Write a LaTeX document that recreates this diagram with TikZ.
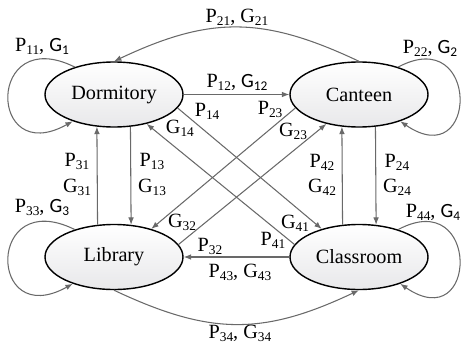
\documentclass[tikz,border=0pt]{standalone}
\usepackage{fontspec}
\setmainfont{Liberation Serif}
\newfontfamily\sansG{Carlito}
\usetikzlibrary{arrows.meta,shapes.geometric}
\definecolor{edgegray}{RGB}{105,105,105}
\definecolor{shadegray}{RGB}{232,232,234}
\newcommand{\subnum}[1]{\raisebox{-1.7pt}{\fontsize{7.6}{8}\selectfont #1}}
\newcommand{\Pv}[1]{P\subnum{#1}}
\newcommand{\Gv}[1]{G\subnum{#1}}
\newcommand{\Gs}[1]{{\sansG G\subnum{#1}}}
\tikzset{
  statenode/.style={ellipse,draw=black,line width=0.8pt,minimum width=2.76cm,minimum height=1.30cm,
    inner sep=0pt,top color=white,bottom color=shadegray,font=\fontsize{11.5}{13}\selectfont},
  transedge/.style={-{Latex[length=4.2pt,width=3.2pt]},line width=0.6pt,draw=edgegray},
  translabel/.style={font=\fontsize{11.5}{13}\selectfont,inner sep=1pt}
}

\begin{document}
\begin{tikzpicture}[x=4.9cm,y=3.25cm]
  \useasboundingbox (-0.4653,-0.5969) rectangle (1.4163,1.5815);
  \node[statenode] (dorm) at (0,1) {Dormitory};
  \node[statenode] (cant) at (1,1) {Canteen};
  \node[statenode] (lib) at (0,0) {Library};
  \node[statenode] (class) at (1,0) {Classroom};
  \draw[transedge] (dorm.145) .. controls +(-0.361,0.27) and +(-0.349,-0.292) .. (dorm.213);
  \draw[transedge] (lib.145) .. controls +(-0.361,0.27) and +(-0.349,-0.292) .. (lib.213);
  \draw[transedge] (cant.35) .. controls +(0.335,0.27) and +(0.32,-0.33) .. (cant.-33);
  \draw[transedge] (class.35) .. controls +(0.335,0.27) and +(0.32,-0.33) .. (class.-33);
  \draw[transedge] (cant.north) .. controls +(-0.392,0.279) and +(0.392,0.279) .. (dorm.north);
  \draw[transedge] (lib.south) .. controls +(0.392,-0.279) and +(-0.392,-0.279) .. (class.south);
  \draw[transedge] (dorm.east) -- (cant.west);
  \draw[transedge] (class.west) -- (lib.east);
  \draw[transedge] (lib.117.6) -- (dorm.242.4);
  \draw[transedge] (dorm.297.6) -- (lib.62.4);
  \draw[transedge] (class.117.6) -- (cant.242.4);
  \draw[transedge] (cant.297.6) -- (class.62.4);
  \draw[transedge] (dorm.-12) -- (class.143);
  \draw[transedge] (class.169) -- (dorm.-42);
  \draw[transedge] (cant.192) -- (lib.37);
  \draw[transedge] (lib.11) -- (cant.222);
  \node[translabel] (l11) at (-0.294,1.298) {\Pv{11}, \Gs{1}};
  \node[translabel] (l21) at (0.502,1.477) {\Pv{21}, \Gv{21}};
  \node[translabel] (l12) at (0.502,1.077) {\Pv{12}, \Gs{12}};
  \node[translabel] (l22) at (1.290,1.286) {\Pv{22}, \Gs{2}};
  \node[translabel] (p14) at (0.380,0.898) {\Pv{14}};
  \node[translabel] (g14) at (0.269,0.794) {\Gv{14}};
  \node[translabel] (p23) at (0.637,0.905) {\Pv{23}};
  \node[translabel] (g23) at (0.731,0.775) {\Gv{23}};
  \node[translabel] (p31) at (-0.151,0.585) {\Pv{31}};
  \node[translabel] (g31) at (-0.151,0.431) {\Gv{31}};
  \node[translabel] (p13) at (0.155,0.585) {\Pv{13}};
  \node[translabel] (g13) at (0.155,0.431) {\Gv{13}};
  \node[translabel] (p42) at (0.849,0.585) {\Pv{42}};
  \node[translabel] (g42) at (0.849,0.431) {\Gv{42}};
  \node[translabel] (p24) at (1.155,0.585) {\Pv{24}};
  \node[translabel] (g24) at (1.155,0.431) {\Gv{24}};
  \node[translabel] (l33) at (-0.294,0.302) {\Pv{33}, \Gs{3}};
  \node[translabel] (g32) at (0.278,0.215) {\Gv{32}};
  \node[translabel] (p32) at (0.392,0.068) {\Pv{32}};
  \node[translabel] (p41) at (0.649,0.105) {\Pv{41}};
  \node[translabel] (g41) at (0.739,0.209) {\Gv{41}};
  \node[translabel] (l43) at (0.514,-0.092) {\Pv{43}, \Gv{43}};
  \node[translabel] (l44) at (1.302,0.277) {\Pv{44}, \Gs{4}};
  \node[translabel] (l34) at (0.514,-0.468) {\Pv{34}, \Gv{34}};
\end{tikzpicture}
\end{document}
